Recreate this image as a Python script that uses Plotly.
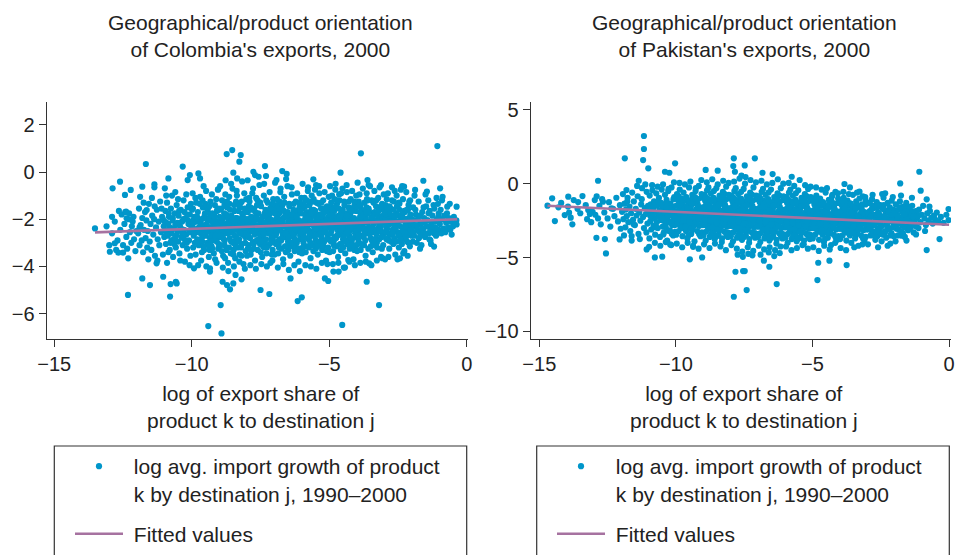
import plotly.graph_objects as go

# ---------------- data ----------------
tick_x = [-15, -10, -5, 0]
tick_y_colombia = [2, 0, -2, -4, -6]
tick_y_pakistan = [5, 0, -5, -10]

colombia_fit_x = [-13.52, -0.35]
colombia_fit_y = [-2.56, -2.0]
pakistan_fit_x = [-14.7, 0.0]
pakistan_fit_y = [-1.49, -2.78]

colombia_outliers = [
(-13.52,-2.39),(-12.98,-3.38),(-12.88,-0.69),(-12.8,-3.02),(-12.61,-0.41),(-12.67,-3.42),(-12.5,-3.42),(-12.43,-0.97),
(-12.31,-3.66),(-12.32,-5.21),(-12.22,-0.76),(-12.39,-1.68),(-12.37,-1.96),(-11.88,-1.05),(-11.8,-0.62),(-11.8,-4.51),
(-11.67,0.34),(-11.64,-1.61),(-11.52,-4.79),(-11.36,-0.52),(-11.36,-0.65),(-11.28,-3.87),(-11.04,-4.44),(-10.98,-0.69),
(-10.85,-0.27),(-10.77,-4.75),(-10.79,-5.28),(-10.58,-4.65),(-10.55,-4.72),(-10.33,0.23),(-10.15,-0.34),(-10.07,-0.13),
(-9.76,-0.06),(-9.7,-0.27),(-9.92,-4.08),(-9.4,-6.53),(-9.34,-4.08),(-9.34,-4.22),(-9.04,-0.73),(-8.92,-6.84),(-8.95,-5.64),
(-8.88,-4.65),(-8.73,0.76),(-8.53,0.93),(-8.49,-0.03),(-8.35,-0.27),(-8.27,0.44),(-8.22,0.72),(-8.72,-4.79),(-8.61,-4.97),
(-8.49,-4.72),(-8.41,-4.36),(-8.19,-4.55),(-7.76,0.01),(-7.7,-0.13),(-7.34,0.25),(-7.3,-0.17),(-7.5,-5.0),(-7.18,-5.17),
(-6.92,-0.34),(-6.71,0.04),(-6.55,-0.08),(-6.41,-4.51),(-6.15,-5.47),(-6.0,-5.31),(-5.58,-0.31),(-5.48,-0.55),(-5.16,-4.51),
(-5.04,-4.62),(-4.59,-0.03),(-4.53,-6.48),(-4.43,-4.05),(-4.85,-4.22),(-4.66,-4.22),(-4.31,-3.73),(-3.85,0.79),(-3.64,-4.65),
(-3.55,-3.87),(-3.61,-0.34),(-3.19,-5.64),(-3.12,-0.55),(-2.43,-3.66),(-2.31,-3.45),(-2.28,-0.62),(-1.88,-0.76),(-1.58,-0.37),
(-1.45,-0.83),(-1.19,-3.16),(-1.07,1.1),(-0.97,-0.69),(-0.88,-1.05),(-0.71,-1.47),(-0.37,-1.47),(-0.37,-2.22),
]

colombia_bulk = [
(-13.1,-2.3),(-12.9,-2.6),(-12.8,-2.1),(-12.7,-2.9),(-12.65,-1.65),(-12.6,-2.45),(-12.55,-1.8),(-12.5,-3.1),(-12.45,-2.2),(-12.42,-1.7),
(-12.38,-2.75),(-12.35,-3.25),(-12.3,-2.0),(-12.28,-1.75),(-12.25,-2.55),(-12.2,-3.0),(-12.18,-2.3),(-12.12,-1.9),(-12.1,-2.85),(-12.05,-3.35),
(-12.02,-2.5),(-12.9,-1.9),(-12.75,-3.3),(-13.0,-3.1),(-12.15,-2.1),
(-11.95,-2.6),(-11.92,-1.55),(-11.9,-3.1),(-11.86,-2.25),(-11.82,-2.9),(-11.8,-1.95),(-11.77,-3.4),(-11.74,-2.45),(-11.7,-1.7),(-11.68,-2.8),
(-11.65,-2.05),(-11.62,-3.2),(-11.6,-2.5),(-11.56,-1.35),(-11.53,-2.95),(-11.5,-2.2),(-11.47,-3.3),(-11.44,-1.85),(-11.4,-2.65),(-11.37,-2.0),
(-11.34,-3.55),(-11.3,-2.35),(-11.27,-1.6),(-11.24,-2.85),(-11.2,-2.1),(-11.18,-3.1),(-11.15,-1.25),(-11.12,-2.55),(-11.08,-1.9),(-11.05,-3.5),
(-11.02,-2.3),(-11.0,-2.75),(-11.45,-1.1),(-11.58,-3.7),(-11.25,-3.75),(-11.1,-1.55),(-11.35,-1.45),(-11.9,-2.35),(-11.75,-1.3),(-11.05,-2.0),
(-10.98,-2.45),(-10.96,-1.65),(-10.94,-3.05),(-10.92,-2.15),(-10.9,-1.3),(-10.87,-2.7),(-10.85,-3.4),(-10.83,-1.9),(-10.8,-2.35),(-10.78,-3.0),
(-10.76,-1.55),(-10.73,-2.6),(-10.7,-2.05),(-10.68,-3.6),(-10.65,-2.85),(-10.62,-1.75),(-10.6,-2.25),(-10.58,-3.2),(-10.55,-1.4),(-10.52,-2.5),
(-10.5,-2.95),(-10.48,-1.85),(-10.45,-3.45),(-10.43,-2.3),(-10.4,-1.6),(-10.38,-2.75),(-10.35,-2.1),(-10.33,-3.1),(-10.3,-1.2),(-10.28,-2.45),
(-10.25,-3.8),(-10.22,-1.95),(-10.2,-2.65),(-10.17,-3.25),(-10.15,-1.5),(-10.12,-2.2),(-10.1,-2.9),(-10.07,-1.8),(-10.05,-3.55),(-10.02,-2.4),
(-10.9,-3.85),(-10.72,-1.0),(-10.6,-0.85),(-10.42,-3.75),(-10.2,-0.95),(-10.08,-3.95),(-10.66,-2.4),(-10.36,-2.55),(-10.86,-2.2),(-10.14,-2.05),
(-10.5,-1.15),(-10.8,-3.3),(-10.27,-1.7),(-10.57,-2.7),(-10.03,-1.35),(-10.93,-1.0),(-10.45,-2.15),(-10.18,-3.0),(-10.74,-2.9),(-10.32,-2.8),
(-9.98,-2.3),(-9.96,-1.55),(-9.95,-3.2),(-9.93,-2.7),(-9.9,-1.9),(-9.88,-2.45),(-9.86,-3.5),(-9.84,-1.3),(-9.82,-2.1),(-9.8,-2.85),
(-9.78,-1.7),(-9.75,-3.1),(-9.73,-2.35),(-9.7,-1.05),(-9.68,-2.6),(-9.66,-3.75),(-9.64,-2.0),(-9.62,-2.95),(-9.6,-1.5),(-9.58,-2.4),
(-9.55,-3.3),(-9.53,-1.85),(-9.5,-2.7),(-9.48,-0.8),(-9.46,-2.2),(-9.44,-3.0),(-9.42,-1.6),(-9.4,-2.5),(-9.38,-3.6),(-9.36,-1.95),
(-9.34,-2.8),(-9.32,-1.25),(-9.3,-2.35),(-9.28,-3.15),(-9.25,-1.75),(-9.23,-2.6),(-9.2,-3.45),(-9.18,-2.05),(-9.16,-1.4),(-9.14,-2.9),
(-9.12,-2.25),(-9.1,-3.85),(-9.08,-1.65),(-9.06,-2.55),(-9.04,-3.25),(-9.02,-2.1),(-9.97,-0.9),(-9.77,-3.95),(-9.57,-0.6),(-9.47,-4.0),
(-9.27,-0.95),(-9.15,-3.7),(-9.05,-0.75),(-9.89,-3.0),(-9.69,-2.15),(-9.51,-1.35),(-9.39,-2.05),(-9.21,-2.85),(-9.11,-1.15),(-9.83,-2.55),
(-9.63,-3.4),(-9.43,-2.45),(-9.33,-1.8),(-9.19,-2.4),(-9.01,-2.75),(-9.92,-2.0),(-9.72,-2.9),(-9.54,-2.25),(-9.35,-3.3),(-9.17,-1.9),
(-9.87,-1.1),(-9.61,-1.2),(-9.29,-2.7),(-9.09,-2.95),(-9.79,-2.4),(-9.45,-1.45),(-9.24,-2.15),(-9.03,-1.55),(-9.65,-2.5),(-9.41,-3.1),
(-8.98,-2.35),(-8.96,-1.6),(-8.95,-3.1),(-8.93,-2.75),(-8.9,-1.2),(-8.88,-2.0),(-8.86,-3.55),(-8.84,-2.5),(-8.82,-1.75),(-8.8,-2.9),
(-8.78,-0.95),(-8.76,-2.2),(-8.74,-3.3),(-8.72,-1.5),(-8.7,-2.6),(-8.68,-3.85),(-8.66,-2.05),(-8.64,-1.05),(-8.62,-2.8),(-8.6,-2.35),
(-8.58,-3.45),(-8.56,-1.85),(-8.54,-2.55),(-8.52,-0.7),(-8.5,-3.0),(-8.48,-2.15),(-8.46,-1.4),(-8.44,-2.7),(-8.42,-3.65),(-8.4,-1.95),
(-8.38,-2.4),(-8.36,-1.0),(-8.34,-3.2),(-8.32,-2.25),(-8.3,-1.65),(-8.28,-2.85),(-8.26,-3.5),(-8.24,-2.0),(-8.22,-1.3),(-8.2,-2.55),
(-8.18,-3.05),(-8.16,-1.8),(-8.14,-2.45),(-8.12,-3.9),(-8.1,-2.1),(-8.08,-1.55),(-8.06,-2.75),(-8.04,-3.35),(-8.02,-1.15),(-8.97,-0.6),
(-8.87,-4.05),(-8.77,-0.35),(-8.67,-4.2),(-8.57,-0.5),(-8.47,-4.0),(-8.37,-0.8),(-8.27,-3.8),(-8.17,-0.4),(-8.07,-4.1),(-8.94,-2.2),
(-8.85,-2.65),(-8.75,-1.9),(-8.65,-3.2),(-8.55,-2.45),(-8.45,-2.95),(-8.35,-2.1),(-8.25,-1.5),(-8.15,-2.65),(-8.05,-2.3),(-8.91,-3.35),
(-8.81,-1.4),(-8.71,-2.45),(-8.61,-1.6),(-8.51,-2.25),(-8.41,-3.1),(-8.31,-2.95),(-8.21,-2.15),(-8.11,-1.95),(-8.01,-2.6),(-8.99,-1.9),
(-8.79,-3.65),(-8.59,-2.1),(-8.39,-1.25),(-8.19,-3.55),(-8.09,-0.9),(-8.89,-2.5),(-8.69,-1.35),(-8.49,-3.5),(-8.29,-2.5),(-8.13,-1.75),
(-7.98,-2.4),(-7.96,-1.7),(-7.94,-3.1),(-7.92,-2.15),(-7.9,-1.25),(-7.88,-2.8),(-7.86,-3.5),(-7.84,-1.95),(-7.82,-2.5),(-7.8,-0.9),
(-7.78,-3.0),(-7.76,-2.25),(-7.74,-1.55),(-7.72,-2.65),(-7.7,-3.75),(-7.68,-2.0),(-7.66,-1.1),(-7.64,-2.9),(-7.62,-2.35),(-7.6,-3.3),
(-7.58,-1.75),(-7.56,-2.55),(-7.54,-0.55),(-7.52,-3.05),(-7.5,-2.1),(-7.48,-1.45),(-7.46,-2.75),(-7.44,-3.6),(-7.42,-1.9),(-7.4,-2.45),
(-7.38,-1.0),(-7.36,-3.2),(-7.34,-2.3),(-7.32,-1.6),(-7.3,-2.85),(-7.28,-3.45),(-7.26,-2.05),(-7.24,-1.3),(-7.22,-2.6),(-7.2,-3.1),
(-7.18,-1.8),(-7.16,-2.4),(-7.14,-3.85),(-7.12,-2.15),(-7.1,-1.5),(-7.08,-2.7),(-7.06,-3.3),(-7.04,-1.15),(-7.02,-2.5),(-7.97,-0.35),
(-7.87,-3.95),(-7.77,-0.7),(-7.67,-4.1),(-7.57,-0.2),(-7.47,-3.9),(-7.37,-0.5),(-7.27,-4.0),(-7.17,-0.85),(-7.07,-3.75),(-7.95,-2.6),
(-7.85,-2.2),(-7.75,-3.25),(-7.65,-1.85),(-7.55,-2.3),(-7.45,-2.95),(-7.35,-1.75),(-7.25,-2.55),(-7.15,-2.0),(-7.05,-2.9),(-7.93,-1.45),
(-7.83,-3.3),(-7.73,-2.05),(-7.63,-1.4),(-7.53,-2.65),(-7.43,-2.15),(-7.33,-3.05),(-7.23,-1.95),(-7.13,-2.45),(-7.03,-1.7),(-7.99,-3.55),
(-7.89,-2.0),(-7.79,-1.6),(-7.69,-2.45),(-7.59,-2.0),(-7.49,-3.4),(-7.39,-2.65),(-7.29,-1.2),(-7.19,-2.3),(-7.09,-3.5),(-7.91,-1.1),
(-7.81,-2.35),(-7.71,-2.95),(-7.61,-1.2),(-7.51,-2.4),(-7.41,-3.15),(-7.31,-2.2),(-7.21,-1.65),(-7.11,-2.85),(-7.01,-2.2),
(-6.98,-2.35),(-6.96,-1.6),(-6.94,-3.05),(-6.92,-2.6),(-6.9,-1.15),(-6.88,-2.05),(-6.86,-3.45),(-6.84,-2.4),(-6.82,-1.75),(-6.8,-2.85),
(-6.78,-0.85),(-6.76,-2.2),(-6.74,-3.25),(-6.72,-1.45),(-6.7,-2.55),(-6.68,-3.7),(-6.66,-1.95),(-6.64,-1.05),(-6.62,-2.75),(-6.6,-2.3),
(-6.58,-3.4),(-6.56,-1.8),(-6.54,-2.5),(-6.52,-0.6),(-6.5,-2.95),(-6.48,-2.1),(-6.46,-1.35),(-6.44,-2.65),(-6.42,-3.55),(-6.4,-1.9),
(-6.38,-2.35),(-6.36,-0.95),(-6.34,-3.15),(-6.32,-2.2),(-6.3,-1.6),(-6.28,-2.8),(-6.26,-3.35),(-6.24,-2.0),(-6.22,-1.25),(-6.2,-2.5),
(-6.18,-3.0),(-6.16,-1.7),(-6.14,-2.4),(-6.12,-3.8),(-6.1,-2.05),(-6.08,-1.5),(-6.06,-2.7),(-6.04,-3.25),(-6.02,-1.1),(-6.97,-0.45),
(-6.87,-4.05),(-6.77,-0.7),(-6.67,-3.9),(-6.57,-0.3),(-6.47,-4.15),(-6.37,-0.65),(-6.27,-3.95),(-6.17,-0.9),(-6.07,-4.2),(-6.95,-2.7),
(-6.85,-2.15),(-6.75,-2.9),(-6.65,-1.65),(-6.55,-2.25),(-6.45,-3.05),(-6.35,-1.85),(-6.25,-2.6),(-6.15,-2.15),(-6.05,-2.85),(-6.93,-1.4),
(-6.83,-3.2),(-6.73,-2.0),(-6.63,-1.3),(-6.53,-2.6),(-6.43,-2.05),(-6.33,-3.0),(-6.23,-1.85),(-6.13,-2.5),(-6.03,-1.75),(-6.99,-3.5),
(-6.89,-1.85),(-6.79,-2.45),(-6.69,-2.1),(-6.59,-1.9),(-6.49,-3.3),(-6.39,-2.7),(-6.29,-1.35),(-6.19,-2.3),(-6.09,-3.4),(-6.91,-2.25),
(-6.81,-1.25),(-6.71,-2.8),(-6.61,-3.15),(-6.51,-1.7),(-6.41,-2.45),(-6.31,-2.35),(-6.21,-3.2),(-6.11,-1.6),(-6.01,-2.4),
(-5.98,-2.3),(-5.96,-1.55),(-5.94,-3.0),(-5.92,-2.55),(-5.9,-1.1),(-5.88,-2.0),(-5.86,-3.4),(-5.84,-2.35),(-5.82,-1.7),(-5.8,-2.8),
(-5.78,-0.8),(-5.76,-2.15),(-5.74,-3.2),(-5.72,-1.4),(-5.7,-2.5),(-5.68,-3.65),(-5.66,-1.9),(-5.64,-1.0),(-5.62,-2.7),(-5.6,-2.25),
(-5.58,-3.35),(-5.56,-1.75),(-5.54,-2.45),(-5.52,-0.75),(-5.5,-2.9),(-5.48,-2.05),(-5.46,-1.3),(-5.44,-2.6),(-5.42,-3.5),(-5.4,-1.85),
(-5.38,-2.3),(-5.36,-0.9),(-5.34,-3.1),(-5.32,-2.15),(-5.3,-1.55),(-5.28,-2.75),(-5.26,-3.3),(-5.24,-1.95),(-5.22,-1.2),(-5.2,-2.45),
(-5.18,-2.95),(-5.16,-1.65),(-5.14,-2.35),(-5.12,-3.75),(-5.1,-2.0),(-5.08,-1.45),(-5.06,-2.65),(-5.04,-3.2),(-5.02,-1.05),(-5.97,-0.5),
(-5.87,-3.95),(-5.77,-0.65),(-5.67,-4.0),(-5.57,-1.15),(-5.47,-4.1),(-5.37,-0.6),(-5.27,-3.85),(-5.17,-0.85),(-5.07,-3.9),(-5.95,-2.65),
(-5.85,-2.1),(-5.75,-2.85),(-5.65,-1.6),(-5.55,-2.2),(-5.45,-3.0),(-5.35,-1.8),(-5.25,-2.55),(-5.15,-2.1),(-5.05,-2.8),(-5.93,-1.35),
(-5.83,-3.15),(-5.73,-1.95),(-5.63,-1.25),(-5.53,-2.55),(-5.43,-2.0),(-5.33,-2.95),(-5.23,-1.8),(-5.13,-2.45),(-5.03,-1.7),(-5.99,-3.45),
(-5.89,-1.8),(-5.79,-2.4),(-5.69,-2.05),(-5.59,-1.85),(-5.49,-3.25),(-5.39,-2.65),(-5.29,-1.3),(-5.19,-2.25),(-5.09,-3.35),(-5.91,-2.2),
(-5.81,-1.2),(-5.71,-2.75),(-5.61,-3.1),(-5.51,-1.65),(-5.41,-2.4),(-5.31,-2.3),(-5.21,-3.15),(-5.11,-1.55),(-5.01,-2.35),
(-4.98,-2.25),(-4.96,-1.5),(-4.94,-2.95),(-4.92,-2.5),(-4.9,-1.0),(-4.88,-1.95),(-4.86,-3.35),(-4.84,-2.3),(-4.82,-1.65),(-4.8,-2.75),
(-4.78,-0.75),(-4.76,-2.1),(-4.74,-3.15),(-4.72,-1.35),(-4.7,-2.45),(-4.68,-3.6),(-4.66,-1.85),(-4.64,-0.95),(-4.62,-2.65),(-4.6,-2.2),
(-4.58,-3.3),(-4.56,-1.7),(-4.54,-2.4),(-4.52,-0.7),(-4.5,-2.85),(-4.48,-2.0),(-4.46,-1.25),(-4.44,-2.55),(-4.42,-3.45),(-4.4,-1.8),
(-4.38,-2.25),(-4.36,-0.85),(-4.34,-3.05),(-4.32,-2.1),(-4.3,-1.5),(-4.28,-2.7),(-4.26,-3.25),(-4.24,-1.9),(-4.22,-1.15),(-4.2,-2.4),
(-4.18,-2.9),(-4.16,-1.6),(-4.14,-2.3),(-4.12,-3.7),(-4.1,-1.95),(-4.08,-1.4),(-4.06,-2.6),(-4.04,-3.15),(-4.02,-1.0),(-4.97,-0.6),
(-4.87,-3.9),(-4.77,-0.5),(-4.67,-3.85),(-4.57,-0.9),(-4.47,-4.05),(-4.37,-0.55),(-4.27,-3.8),(-4.17,-0.8),(-4.07,-3.95),(-4.95,-2.6),
(-4.85,-2.05),(-4.75,-2.8),(-4.65,-1.55),(-4.55,-2.15),(-4.45,-2.95),(-4.35,-1.75),(-4.25,-2.5),(-4.15,-2.05),(-4.05,-2.75),(-4.93,-1.3),
(-4.83,-3.1),(-4.73,-1.9),(-4.63,-1.2),(-4.53,-2.5),(-4.43,-1.95),(-4.33,-2.9),(-4.23,-1.75),(-4.13,-2.4),(-4.03,-1.65),(-4.99,-3.4),
(-4.89,-1.75),(-4.79,-2.35),(-4.69,-2.0),(-4.59,-1.8),(-4.49,-3.2),(-4.39,-2.6),(-4.29,-1.25),(-4.19,-2.2),(-4.09,-3.3),(-4.91,-2.15),
(-4.81,-1.15),(-4.71,-2.7),(-4.61,-3.05),(-4.51,-1.6),(-4.41,-2.35),(-4.31,-2.25),(-4.21,-3.1),(-4.11,-1.5),(-4.01,-2.3),
(-3.98,-2.2),(-3.96,-1.45),(-3.94,-2.9),(-3.92,-2.45),(-3.9,-0.95),(-3.88,-1.9),(-3.86,-3.3),(-3.84,-2.25),(-3.82,-1.6),(-3.8,-2.7),
(-3.78,-0.7),(-3.76,-2.05),(-3.74,-3.1),(-3.72,-1.3),(-3.7,-2.4),(-3.68,-3.55),(-3.66,-1.8),(-3.64,-0.9),(-3.62,-2.6),(-3.6,-2.15),
(-3.58,-3.25),(-3.56,-1.65),(-3.54,-2.35),(-3.52,-0.6),(-3.5,-2.8),(-3.48,-1.95),(-3.46,-1.2),(-3.44,-2.5),(-3.42,-3.4),(-3.4,-1.75),
(-3.38,-2.2),(-3.36,-0.8),(-3.34,-3.0),(-3.32,-2.05),(-3.3,-1.45),(-3.28,-2.65),(-3.26,-3.2),(-3.24,-1.85),(-3.22,-1.1),(-3.2,-2.35),
(-3.18,-2.85),(-3.16,-1.55),(-3.14,-2.25),(-3.12,-3.6),(-3.1,-1.9),(-3.08,-1.35),(-3.06,-2.55),(-3.04,-3.1),(-3.02,-0.95),(-3.97,-0.45),
(-3.87,-3.85),(-3.67,-3.8),(-3.57,-0.55),(-3.47,-3.95),(-3.27,-3.75),(-3.17,-0.65),(-3.07,-3.65),(-3.95,-2.55),(-3.85,-2.0),(-3.75,-2.75),
(-3.65,-1.5),(-3.55,-2.1),(-3.45,-2.9),(-3.35,-1.7),(-3.25,-2.45),(-3.15,-2.0),(-3.05,-2.7),(-3.93,-1.25),(-3.83,-3.05),(-3.73,-1.85),
(-3.63,-1.15),(-3.53,-2.45),(-3.43,-1.9),(-3.33,-2.85),(-3.23,-1.7),(-3.13,-2.35),(-3.03,-1.6),(-3.99,-3.35),(-3.89,-1.7),(-3.79,-2.3),
(-3.69,-1.95),(-3.59,-1.75),(-3.49,-3.15),(-3.39,-2.55),(-3.29,-1.2),(-3.19,-2.15),(-3.09,-3.25),
(-2.98,-2.15),(-2.95,-1.4),(-2.92,-2.85),(-2.9,-2.4),(-2.87,-0.9),(-2.85,-1.85),(-2.82,-3.25),(-2.8,-2.2),(-2.77,-1.55),(-2.75,-2.65),
(-2.72,-0.65),(-2.7,-2.0),(-2.67,-3.05),(-2.65,-1.25),(-2.62,-2.35),(-2.6,-3.5),(-2.57,-1.75),(-2.55,-1.0),(-2.52,-2.55),(-2.5,-2.1),
(-2.47,-3.2),(-2.45,-1.6),(-2.42,-2.3),(-2.4,-0.75),(-2.37,-2.75),(-2.35,-1.9),(-2.32,-1.15),(-2.3,-2.45),(-2.27,-3.35),(-2.25,-1.7),
(-2.22,-2.15),(-2.2,-0.85),(-2.17,-2.95),(-2.15,-2.0),(-2.12,-1.4),(-2.1,-2.6),(-2.07,-3.15),(-2.05,-1.8),(-2.02,-2.3),(-2.97,-3.7),
(-2.85,-3.6),(-2.62,-0.8),(-2.52,-3.7),(-2.35,-0.6),(-2.15,-3.55),(-2.94,-1.95),(-2.84,-2.6),(-2.74,-1.85),(-2.64,-2.8),(-2.54,-1.45),
(-2.44,-2.65),(-2.34,-2.05),(-2.24,-2.85),(-2.14,-1.6),(-2.04,-2.55),(-2.91,-1.15),(-2.81,-1.65),(-2.71,-2.45),(-2.61,-2.1),(-2.51,-1.85),
(-2.41,-2.95),(-2.31,-1.95),(-2.21,-2.4),(-2.11,-1.95),(-2.01,-2.7),(-2.96,-2.55),(-2.76,-2.95),(-2.56,-2.25),(-2.46,-1.3),(-2.26,-2.6),
(-2.06,-1.2),(-2.66,-1.6),(-2.86,-2.0),(-2.36,-3.05),(-2.16,-2.25),
(-1.98,-2.1),(-1.95,-1.5),(-1.92,-2.7),(-1.88,-2.3),(-1.85,-1.8),(-1.82,-3.0),(-1.78,-2.0),(-1.75,-1.25),(-1.72,-2.55),(-1.68,-2.2),
(-1.65,-3.1),(-1.62,-1.7),(-1.58,-2.4),(-1.55,-1.95),(-1.52,-2.75),(-1.48,-1.45),(-1.45,-2.3),(-1.42,-2.05),(-1.38,-2.6),(-1.35,-1.65),
(-1.32,-2.9),(-1.28,-2.15),(-1.25,-1.85),(-1.22,-2.5),(-1.18,-1.55),(-1.15,-2.35),(-1.12,-2.7),(-1.08,-2.0),(-1.05,-1.35),(-1.02,-2.45),
(-1.9,-1.0),(-1.7,-3.25),(-1.5,-0.95),(-1.3,-3.05),(-1.1,-1.1),(-1.94,-2.05),(-1.74,-2.8),(-1.54,-2.15),(-1.34,-2.35),(-1.14,-2.55),
(-1.6,-2.65),(-1.4,-1.2),(-1.2,-2.6),(-1.8,-2.45),(-1.02,-1.75),
(-0.98,-2.2),(-0.95,-1.6),(-0.92,-2.6),(-0.88,-2.0),(-0.85,-2.4),(-0.82,-1.85),(-0.78,-2.55),(-0.75,-2.15),(-0.72,-1.75),(-0.68,-2.35),
(-0.65,-1.95),(-0.6,-2.45),(-0.58,-2.1),(-0.55,-2.65),(-0.5,-2.3),(-0.47,-1.9),(-0.42,-2.2),(-0.38,-2.05),(-0.9,-1.2),(-0.62,-1.35),
]

colombia_core = [
(-10.99,-2.1),(-10.91,-2.6),(-10.84,-1.75),(-10.77,-2.45),(-10.69,-1.95),(-10.61,-2.8),(-10.53,-2.15),(-10.46,-1.65),(-10.39,-2.4),(-10.31,-2.0),
(-10.24,-2.9),(-10.16,-1.8),(-10.09,-2.55),(-10.01,-2.1),(-10.64,-3.05),
(-9.99,-1.6),(-9.91,-2.6),(-9.85,-2.0),(-9.77,-2.9),(-9.71,-1.35),(-9.66,-2.3),(-9.59,-3.15),(-9.52,-1.75),(-9.47,-2.55),(-9.41,-2.0),
(-9.36,-1.45),(-9.3,-2.95),(-9.24,-2.45),(-9.19,-1.85),(-9.13,-2.7),(-9.07,-1.6),(-9.02,-3.05),(-9.94,-2.15),(-9.81,-1.9),(-9.62,-2.75),
(-9.44,-2.3),(-9.26,-3.25),(-9.09,-2.2),(-9.56,-1.95),(-9.74,-2.45),
(-8.99,-2.7),(-8.93,-1.55),(-8.87,-2.25),(-8.81,-3.1),(-8.75,-1.8),(-8.69,-2.5),(-8.63,-1.35),(-8.57,-2.95),(-8.51,-2.05),(-8.45,-1.65),
(-8.39,-2.75),(-8.33,-2.3),(-8.27,-1.45),(-8.21,-3.2),(-8.15,-2.0),(-8.09,-2.6),(-8.03,-1.7),(-8.96,-2.05),(-8.84,-2.85),(-8.72,-1.25),
(-8.6,-2.4),(-8.48,-3.3),(-8.36,-1.95),(-8.24,-2.6),(-8.12,-2.35),(-8.9,-1.95),(-8.66,-2.15),(-8.42,-2.45),(-8.18,-1.25),(-8.06,-3.0),
(-7.99,-2.0),(-7.93,-2.75),(-7.87,-1.5),(-7.81,-2.45),(-7.75,-3.05),(-7.69,-1.7),(-7.63,-2.25),(-7.57,-2.85),(-7.51,-1.3),(-7.45,-2.1),
(-7.39,-2.6),(-7.33,-1.85),(-7.27,-3.2),(-7.21,-2.35),(-7.15,-1.55),(-7.09,-2.7),(-7.03,-2.05),(-7.96,-3.25),(-7.84,-1.9),(-7.72,-2.55),
(-7.6,-1.4),(-7.48,-2.95),(-7.36,-2.15),(-7.24,-1.75),(-7.12,-3.0),(-7.9,-2.3),(-7.66,-1.95),(-7.42,-2.4),(-7.18,-2.6),(-7.06,-1.35),
(-6.99,-1.75),(-6.93,-2.45),(-6.87,-2.95),(-6.81,-1.55),(-6.75,-2.1),(-6.69,-2.7),(-6.63,-1.9),(-6.57,-3.15),(-6.51,-2.35),(-6.45,-1.45),
(-6.39,-2.05),(-6.33,-2.65),(-6.27,-1.65),(-6.21,-2.9),(-6.15,-2.25),(-6.09,-1.3),(-6.03,-2.55),(-6.96,-2.2),(-6.84,-3.05),(-6.72,-1.35),
(-6.6,-2.6),(-6.48,-2.8),(-6.36,-1.8),(-6.24,-2.4),(-6.12,-3.25),(-6.9,-1.95),(-6.66,-2.3),(-6.42,-3.0),(-6.18,-1.9),(-6.06,-2.15),
(-5.99,-2.1),(-5.93,-2.8),(-5.87,-1.45),(-5.81,-2.35),(-5.75,-1.85),(-5.69,-3.0),(-5.63,-2.2),(-5.57,-1.6),(-5.51,-2.7),(-5.45,-2.0),
(-5.39,-1.35),(-5.33,-2.5),(-5.27,-3.1),(-5.21,-1.7),(-5.15,-2.3),(-5.09,-2.85),(-5.03,-1.9),(-5.96,-3.2),(-5.84,-1.95),(-5.72,-2.6),
(-5.6,-1.25),(-5.48,-2.4),(-5.36,-2.95),(-5.24,-2.15),(-5.12,-1.5),(-5.9,-2.45),(-5.66,-1.75),(-5.42,-3.15),(-5.18,-2.55),(-5.06,-2.05),
(-4.99,-1.8),(-4.93,-2.4),(-4.87,-2.85),(-4.81,-1.5),(-4.75,-2.15),(-4.69,-2.65),(-4.63,-1.95),(-4.57,-3.05),(-4.51,-2.3),(-4.45,-1.4),
(-4.39,-2.0),(-4.33,-2.55),(-4.27,-1.7),(-4.21,-2.8),(-4.15,-2.2),(-4.09,-1.25),(-4.03,-2.5),(-4.96,-2.1),(-4.84,-2.95),(-4.72,-1.2),
(-4.6,-2.45),(-4.48,-2.75),(-4.36,-1.85),(-4.24,-2.35),(-4.12,-3.1),(-4.9,-1.6),(-4.66,-2.25),(-4.42,-2.9),(-4.18,-1.65),(-4.06,-2.1),
(-3.99,-2.05),(-3.93,-2.7),(-3.87,-1.4),(-3.81,-2.3),(-3.75,-1.8),(-3.69,-2.9),(-3.63,-2.15),(-3.57,-1.55),(-3.51,-2.6),(-3.45,-1.95),
(-3.39,-1.3),(-3.33,-2.45),(-3.27,-3.0),(-3.21,-1.65),(-3.15,-2.25),(-3.09,-2.75),(-3.03,-1.85),(-3.96,-3.05),(-3.84,-1.9),(-3.72,-2.5),
(-3.6,-1.2),(-3.48,-2.35),(-3.36,-2.85),(-3.24,-2.1),(-3.12,-1.45),(-3.9,-2.4),(-3.66,-1.7),(-3.42,-3.1),(-3.18,-2.5),(-3.06,-2.0),
(-2.99,-1.75),(-2.93,-2.3),(-2.87,-2.8),(-2.81,-1.45),(-2.75,-2.1),(-2.69,-2.6),(-2.63,-1.9),(-2.57,-2.95),(-2.51,-2.25),(-2.45,-1.35),
(-2.39,-1.95),(-2.33,-2.5),(-2.27,-1.65),(-2.21,-2.75),(-2.15,-2.15),(-2.09,-1.25),(-2.03,-2.45),(-2.96,-2.05),(-2.84,-2.9),(-2.72,-1.2),
(-2.6,-2.4),(-2.48,-2.7),(-2.36,-1.8),(-2.24,-2.3),(-2.12,-3.0),(-2.9,-1.55),(-2.66,-2.2),(-2.42,-2.85),(-2.18,-1.6),(-2.06,-2.05),
(-1.99,-2.0),(-1.93,-2.55),(-1.87,-1.6),(-1.81,-2.25),(-1.75,-2.8),(-1.69,-1.85),(-1.63,-2.4),(-1.57,-1.5),(-1.51,-2.6),(-1.45,-2.05),
(-1.39,-1.75),(-1.33,-2.5),(-1.27,-2.3),(-1.21,-1.4),(-1.15,-2.1),(-1.09,-2.65),(-1.03,-1.9),(-1.96,-2.95),(-1.66,-2.15),(-1.36,-2.85),
]

pakistan_outliers = [
(-14.7,-1.49),(-14.53,-0.99),(-14.43,-2.53),(-14.07,-2.12),(-13.94,-0.88),(-13.91,-1.96),(-13.79,-2.75),(-13.74,-1.11),
(-13.58,-1.24),(-13.42,-0.84),(-13.21,-1.78),(-13.15,-2.05),(-12.97,-1.11),(-12.91,-3.66),(-12.85,0.2),(-12.85,-2.35),
(-12.67,-1.22),(-12.6,-3.75),(-12.56,-4.72),(-12.36,-1.67),(-12.06,-3.77),(-11.87,1.72),(-11.81,-0.43),(-11.62,-3.54),
(-11.36,0.2),(-11.17,3.23),(-11.17,2.35),(-11.2,1.6),(-11.01,1.04),(-11.07,-4.45),(-10.98,-4.27),(-10.77,-4.99),
(-10.5,-4.94),(-10.46,-3.43),(-10.4,0.81),(-10.24,0.74),(-10.21,-4.11),(-10.03,1.38),(-9.49,-5.12),(-9.37,-4.27),
(-9.04,-4.99),(-8.91,0.93),(-8.47,0.88),(-7.88,1.72),(-7.9,1.2),(-7.84,0.81),(-7.88,-7.65),(-7.82,-5.96),(-7.54,-5.91),
(-7.48,-5.91),(-7.41,-7.2),(-7.48,1.24),(-7.11,1.72),(-6.83,0.74),(-6.78,-5.21),(-6.58,-5.62),(-6.46,0.65),(-6.31,-6.79),
(-5.76,0.47),(-4.82,-6.52),(-4.79,-5.35),(-4.38,-5.21),(-3.75,-5.51),(-3.83,-0.02),(-3.63,-0.25),(-3.28,-0.54),(-2.34,-0.65),
(-1.79,0.02),(-1.09,0.81),(-1.04,-0.47),(-0.82,-1.06),(-0.82,-4.49),(-0.35,-3.75),(-0.02,-1.72),(-0.02,-2.46),(-1.12,-2.12),
(-1.21,-3.43),(-1.73,-3.52),
]

pakistan_bulk = [
(-14.3,-1.6),(-14.2,-1.3),(-13.95,-1.55),(-13.85,-2.3),(-13.6,-1.7),(-13.5,-2.0),(-13.3,-1.45),(-13.25,-2.4),(-13.05,-1.9),(-12.95,-2.1),
(-12.8,-1.5),(-12.75,-2.75),(-12.62,-1.95),(-12.5,-2.35),(-12.45,-1.25),(-12.4,-2.9),(-12.3,-1.7),(-12.25,-2.2),(-12.18,-0.95),(-12.12,-2.55),
(-12.05,-1.45),(-12.02,-3.05),(-12.7,-1.05),(-13.1,-2.6),(-12.9,-0.85),
(-11.97,-1.9),(-11.94,-0.7),(-11.92,-2.4),(-11.88,-1.35),(-11.85,-2.95),(-11.83,-1.75),(-11.8,-2.2),(-11.77,-0.95),(-11.74,-2.6),(-11.7,-1.55),
(-11.67,-3.2),(-11.64,-2.0),(-11.6,-0.6),(-11.57,-2.45),(-11.54,-1.2),(-11.5,-2.8),(-11.47,-1.7),(-11.44,-2.15),(-11.4,-0.85),(-11.37,-3.4),
(-11.34,-1.95),(-11.3,-2.5),(-11.27,-1.4),(-11.24,-0.3),(-11.2,-2.25),(-11.17,-3.0),(-11.14,-1.65),(-11.1,-2.05),(-11.07,-0.55),(-11.04,-2.7),
(-11.02,-1.5),(-11.9,-3.5),(-11.62,-3.85),(-11.42,-0.15),(-11.32,-3.75),(-11.12,-0.05),(-11.55,-2.75),(-11.25,-1.05),(-11.08,-3.3),(-11.78,-1.2),
(-10.98,-1.85),(-10.96,-0.8),(-10.94,-2.55),(-10.92,-1.4),(-10.9,-3.1),(-10.88,-2.1),(-10.86,-0.45),(-10.84,-1.7),(-10.82,-2.85),(-10.8,-1.2),
(-10.78,-2.35),(-10.76,-3.45),(-10.74,-1.95),(-10.72,-0.65),(-10.7,-2.6),(-10.68,-1.5),(-10.66,-3.0),(-10.64,-2.2),(-10.62,-0.95),(-10.6,-1.8),
(-10.58,-3.6),(-10.56,-2.45),(-10.54,-1.3),(-10.52,-0.4),(-10.5,-2.0),(-10.48,-2.9),(-10.46,-1.6),(-10.44,-3.3),(-10.42,-2.3),(-10.4,-0.75),
(-10.38,-1.95),(-10.36,-2.7),(-10.34,-1.1),(-10.32,-3.85),(-10.3,-2.15),(-10.28,-0.5),(-10.26,-1.7),(-10.24,-2.55),(-10.22,-3.15),(-10.2,-1.35),
(-10.18,-2.05),(-10.16,-0.25),(-10.14,-2.8),(-10.12,-1.55),(-10.1,-3.5),(-10.08,-2.35),(-10.06,-0.9),(-10.04,-1.85),(-10.02,-2.6),(-10.97,-3.7),
(-10.87,-0.1),(-10.77,-4.0),(-10.67,-0.2),(-10.57,-4.2),(-10.47,-0.05),(-10.37,-3.95),(-10.27,-0.35),(-10.17,-4.15),(-10.07,0.1),(-10.93,-2.2),
(-10.83,-1.55),(-10.73,-2.95),(-10.63,-1.2),(-10.53,-2.25),(-10.43,-1.45),(-10.33,-2.4),(-10.23,-1.9),(-10.13,-2.15),(-10.03,-3.25),(-10.81,-2.0),
(-9.98,-2.0),(-9.96,-0.7),(-9.94,-2.65),(-9.92,-1.45),(-9.9,-3.2),(-9.88,-2.2),(-9.86,-0.4),(-9.84,-1.75),(-9.82,-2.9),(-9.8,-1.25),
(-9.78,-2.4),(-9.76,-3.55),(-9.74,-1.95),(-9.72,-0.6),(-9.7,-2.7),(-9.68,-1.55),(-9.66,-3.05),(-9.64,-2.25),(-9.62,-0.9),(-9.6,-1.85),
(-9.58,-3.7),(-9.56,-2.5),(-9.54,-1.35),(-9.52,-0.25),(-9.5,-2.05),(-9.48,-2.95),(-9.46,-1.65),(-9.44,-3.4),(-9.42,-2.35),(-9.4,-0.75),
(-9.38,-2.0),(-9.36,-2.75),(-9.34,-1.15),(-9.32,-3.9),(-9.3,-2.2),(-9.28,-0.5),(-9.26,-1.75),(-9.24,-2.6),(-9.22,-3.2),(-9.2,-1.4),
(-9.18,-2.1),(-9.16,-0.15),(-9.14,-2.85),(-9.12,-1.6),(-9.1,-3.55),(-9.08,-2.4),(-9.06,-0.95),(-9.04,-1.9),(-9.02,-2.65),(-9.97,-4.05),
(-9.87,0.05),(-9.77,-4.3),(-9.67,-0.05),(-9.57,-4.0),(-9.47,0.15),(-9.37,-4.2),(-9.27,-0.3),(-9.17,-4.4),(-9.07,0.25),(-9.95,-2.35),
(-9.85,-1.6),(-9.75,-3.0),(-9.65,-1.15),(-9.55,-2.3),(-9.45,-1.5),(-9.35,-2.45),(-9.25,-1.95),(-9.15,-2.2),(-9.05,-3.3),(-9.93,-1.1),
(-9.83,-2.55),(-9.73,-1.8),(-9.63,-2.85),(-9.53,-1.9),(-9.43,-2.6),(-9.33,-1.3),(-9.23,-2.4),(-9.13,-1.7),(-9.03,-2.8),(-9.99,-3.45),
(-9.89,-2.75),(-9.79,-1.0),(-9.69,-2.15),(-9.59,-2.7),(-9.49,-1.2),(-9.39,-3.1),(-9.29,-2.6),(-9.19,-1.05),(-9.09,-2.05),
(-8.98,-2.05),(-8.96,-0.75),(-8.94,-2.7),(-8.92,-1.5),(-8.9,-3.25),(-8.88,-2.25),(-8.86,-0.45),(-8.84,-1.8),(-8.82,-2.95),(-8.8,-1.3),
(-8.78,-2.45),(-8.76,-3.6),(-8.74,-2.0),(-8.72,-0.65),(-8.7,-2.75),(-8.68,-1.6),(-8.66,-3.1),(-8.64,-2.3),(-8.62,-0.95),(-8.6,-1.9),
(-8.58,-3.75),(-8.56,-2.55),(-8.54,-1.4),(-8.52,-0.3),(-8.5,-2.1),(-8.48,-3.0),(-8.46,-1.7),(-8.44,-3.45),(-8.42,-2.4),(-8.4,-0.8),
(-8.38,-2.05),(-8.36,-2.8),(-8.34,-1.2),(-8.32,-3.95),(-8.3,-2.25),(-8.28,-0.55),(-8.26,-1.8),(-8.24,-2.65),(-8.22,-3.25),(-8.2,-1.45),
(-8.18,-2.15),(-8.16,-0.2),(-8.14,-2.9),(-8.12,-1.65),(-8.1,-3.6),(-8.08,-2.45),(-8.06,-1.0),(-8.04,-1.95),(-8.02,-2.7),(-8.97,-4.1),
(-8.87,0.1),(-8.77,-4.35),(-8.67,0.3),(-8.57,-4.05),(-8.47,-0.05),(-8.37,-4.25),(-8.27,0.2),(-8.17,-4.5),(-8.07,0.05),(-8.95,-2.4),
(-8.85,-1.65),(-8.75,-3.05),(-8.65,-1.2),(-8.55,-2.35),(-8.45,-1.55),(-8.35,-2.5),(-8.25,-2.0),(-8.15,-2.25),(-8.05,-3.35),(-8.93,-1.15),
(-8.83,-2.6),(-8.73,-1.85),(-8.63,-2.9),(-8.53,-1.95),(-8.43,-2.65),(-8.33,-1.35),(-8.23,-2.45),(-8.13,-1.75),(-8.03,-2.85),(-8.99,-3.5),
(-8.89,-2.8),(-8.79,-1.05),(-8.69,-2.2),(-8.59,-2.75),(-8.49,-1.25),(-8.39,-3.15),(-8.29,-2.65),(-8.19,-1.1),(-8.09,-2.1),(-8.91,-3.85),
(-8.81,-0.25),(-8.71,-3.4),(-8.61,-0.5),(-8.51,-3.55),(-8.41,-1.1),(-8.31,-3.7),(-8.21,-0.7),(-8.11,-3.3),(-8.01,-0.85),
(-7.98,-2.1),(-7.96,-0.8),(-7.94,-2.75),(-7.92,-1.55),(-7.9,-3.3),(-7.88,-2.3),(-7.86,-0.5),(-7.84,-1.85),(-7.82,-3.0),(-7.8,-1.35),
(-7.78,-2.5),(-7.76,-3.65),(-7.74,-2.05),(-7.72,-0.7),(-7.7,-2.8),(-7.68,-1.65),(-7.66,-3.15),(-7.64,-2.35),(-7.62,-1.0),(-7.6,-1.95),
(-7.58,-3.8),(-7.56,-2.6),(-7.54,-1.45),(-7.52,-0.35),(-7.5,-2.15),(-7.48,-3.05),(-7.46,-1.75),(-7.44,-3.5),(-7.42,-2.45),(-7.4,-0.85),
(-7.38,-2.1),(-7.36,-2.85),(-7.34,-1.25),(-7.32,-4.0),(-7.3,-2.3),(-7.28,-0.6),(-7.26,-1.85),(-7.24,-2.7),(-7.22,-3.3),(-7.2,-1.5),
(-7.18,-2.2),(-7.16,-0.25),(-7.14,-2.95),(-7.12,-1.7),(-7.1,-3.65),(-7.08,-2.5),(-7.06,-1.05),(-7.04,-2.0),(-7.02,-2.75),(-7.97,-4.15),
(-7.87,0.15),(-7.77,-4.4),(-7.67,0.35),(-7.57,-4.6),(-7.47,0.0),(-7.37,-4.3),(-7.27,0.25),(-7.17,-4.55),(-7.07,0.1),(-7.95,-2.45),
(-7.85,-1.7),(-7.75,-3.1),(-7.65,-1.25),(-7.55,-2.4),(-7.45,-1.6),(-7.35,-2.55),(-7.25,-2.05),(-7.15,-2.3),(-7.05,-3.4),(-7.93,-1.2),
(-7.83,-2.65),(-7.73,-1.9),(-7.63,-2.95),(-7.53,-2.0),(-7.43,-2.7),(-7.33,-1.4),(-7.23,-2.5),(-7.13,-1.8),(-7.03,-2.9),(-7.99,-3.55),
(-7.89,-2.85),(-7.79,-1.1),(-7.69,-2.25),(-7.59,-2.8),(-7.49,-1.3),(-7.39,-3.2),(-7.29,-2.7),(-7.19,-1.15),(-7.09,-2.15),(-7.91,-3.9),
(-7.81,-0.3),(-7.71,-3.45),(-7.61,-0.55),(-7.51,-3.6),(-7.41,-1.15),(-7.31,-3.75),(-7.21,-0.75),(-7.11,-3.35),(-7.01,-0.9),(-7.74,-4.8),
(-7.55,-4.95),(-7.35,-4.75),(-7.6,0.55),(-7.45,0.45),(-7.2,-4.85),
(-6.98,-2.15),(-6.96,-0.85),(-6.94,-2.8),(-6.92,-1.6),(-6.9,-3.35),(-6.88,-2.35),(-6.86,-0.55),(-6.84,-1.9),(-6.82,-3.05),(-6.8,-1.4),
(-6.78,-2.55),(-6.76,-3.7),(-6.74,-2.1),(-6.72,-0.75),(-6.7,-2.85),(-6.68,-1.7),(-6.66,-3.2),(-6.64,-2.4),(-6.62,-1.05),(-6.6,-2.0),
(-6.58,-3.85),(-6.56,-2.65),(-6.54,-1.5),(-6.52,-0.4),(-6.5,-2.2),(-6.48,-3.1),(-6.46,-1.8),(-6.44,-3.55),(-6.42,-2.5),(-6.4,-0.9),
(-6.38,-2.15),(-6.36,-2.9),(-6.34,-1.3),(-6.32,-4.05),(-6.3,-2.35),(-6.28,-0.65),(-6.26,-1.9),(-6.24,-2.75),(-6.22,-3.35),(-6.2,-1.55),
(-6.18,-2.25),(-6.16,-0.3),(-6.14,-3.0),(-6.12,-1.75),(-6.1,-3.7),(-6.08,-2.55),(-6.06,-1.1),(-6.04,-2.05),(-6.02,-2.8),(-6.97,-4.2),
(-6.87,0.2),(-6.77,-4.45),(-6.67,-0.05),(-6.57,-4.3),(-6.47,0.05),(-6.37,-4.5),(-6.27,0.3),(-6.17,-4.25),(-6.07,0.0),(-6.95,-2.5),
(-6.85,-1.75),(-6.75,-3.15),(-6.65,-1.3),(-6.55,-2.45),(-6.45,-1.65),(-6.35,-2.6),(-6.25,-2.1),(-6.15,-2.35),(-6.05,-3.45),(-6.93,-1.25),
(-6.83,-2.7),(-6.73,-1.95),(-6.63,-3.0),(-6.53,-2.05),(-6.43,-2.75),(-6.33,-1.45),(-6.23,-2.55),(-6.13,-1.85),(-6.03,-2.95),(-6.99,-3.6),
(-6.89,-2.9),(-6.79,-1.15),(-6.69,-2.3),(-6.59,-2.85),(-6.49,-1.35),(-6.39,-3.25),(-6.29,-2.75),(-6.19,-1.2),(-6.09,-2.2),(-6.91,-3.95),
(-6.81,-0.35),(-6.71,-3.5),(-6.61,-0.6),(-6.51,-3.65),(-6.41,-1.2),(-6.31,-3.8),(-6.21,-0.8),(-6.11,-3.4),(-6.01,-0.95),(-6.9,-4.8),
(-6.6,-4.65),(-6.4,-4.9),(-6.2,-4.7),
(-5.98,-2.2),(-5.96,-0.9),(-5.94,-2.85),(-5.92,-1.65),(-5.9,-3.4),(-5.88,-2.4),(-5.86,-0.6),(-5.84,-1.95),(-5.82,-3.1),(-5.8,-1.45),
(-5.78,-2.6),(-5.76,-3.75),(-5.74,-2.15),(-5.72,-0.8),(-5.7,-2.9),(-5.68,-1.75),(-5.66,-3.25),(-5.64,-2.45),(-5.62,-1.1),(-5.6,-2.05),
(-5.58,-3.9),(-5.56,-2.7),(-5.54,-1.55),(-5.52,-0.45),(-5.5,-2.25),(-5.48,-3.15),(-5.46,-1.85),(-5.44,-3.6),(-5.42,-2.55),(-5.4,-0.95),
(-5.38,-2.2),(-5.36,-2.95),(-5.34,-1.35),(-5.32,-4.1),(-5.3,-2.4),(-5.28,-0.7),(-5.26,-1.95),(-5.24,-2.8),(-5.22,-3.4),(-5.2,-1.6),
(-5.18,-2.3),(-5.16,-0.35),(-5.14,-3.05),(-5.12,-1.8),(-5.1,-3.75),(-5.08,-2.6),(-5.06,-1.15),(-5.04,-2.1),(-5.02,-2.85),(-5.97,-4.25),
(-5.87,0.05),(-5.77,-4.5),(-5.67,-0.15),(-5.57,-4.35),(-5.47,0.25),(-5.37,-4.15),(-5.27,-0.1),(-5.17,-4.4),(-5.07,-0.2),(-5.95,-2.55),
(-5.85,-1.8),(-5.75,-3.2),(-5.65,-1.35),(-5.55,-2.5),(-5.45,-1.7),(-5.35,-2.65),(-5.25,-2.15),(-5.15,-2.4),(-5.05,-3.5),(-5.93,-1.3),
(-5.83,-2.75),(-5.73,-2.0),(-5.63,-3.05),(-5.53,-2.1),(-5.43,-2.8),(-5.33,-1.5),(-5.23,-2.6),(-5.13,-1.9),(-5.03,-3.0),(-5.99,-3.65),
(-5.89,-2.95),(-5.79,-1.2),(-5.69,-2.35),(-5.59,-2.9),(-5.49,-1.4),(-5.39,-3.3),(-5.29,-2.8),(-5.19,-1.25),(-5.09,-2.25),(-5.91,-4.0),
(-5.81,-0.4),(-5.71,-3.55),(-5.61,-0.65),(-5.51,-3.7),(-5.41,-1.25),(-5.31,-3.85),(-5.21,-0.85),(-5.11,-3.45),(-5.01,-1.0),
(-4.98,-2.3),(-4.96,-1.1),(-4.94,-2.9),(-4.92,-1.75),(-4.9,-3.45),(-4.88,-2.5),(-4.86,-0.8),(-4.84,-2.05),(-4.82,-3.15),(-4.8,-1.55),
(-4.78,-2.65),(-4.76,-3.8),(-4.74,-2.2),(-4.72,-1.0),(-4.7,-2.95),(-4.68,-1.85),(-4.66,-3.3),(-4.64,-2.5),(-4.62,-1.25),(-4.6,-2.1),
(-4.58,-3.95),(-4.56,-2.75),(-4.54,-1.6),(-4.52,-0.6),(-4.5,-2.3),(-4.48,-3.2),(-4.46,-1.9),(-4.44,-3.65),(-4.42,-2.6),(-4.4,-1.1),
(-4.38,-2.25),(-4.36,-3.0),(-4.34,-1.45),(-4.32,-4.15),(-4.3,-2.45),(-4.28,-0.85),(-4.26,-2.0),(-4.24,-2.85),(-4.22,-3.45),(-4.2,-1.65),
(-4.18,-2.35),(-4.16,-0.55),(-4.14,-3.1),(-4.12,-1.85),(-4.1,-3.8),(-4.08,-2.65),(-4.06,-1.3),(-4.04,-2.15),(-4.02,-2.9),(-4.97,-4.3),
(-4.87,-0.25),(-4.77,-4.55),(-4.67,-0.4),(-4.57,-4.2),(-4.47,-0.3),(-4.37,-4.45),(-4.27,-0.75),(-4.17,-4.0),(-4.07,-0.65),(-4.95,-2.6),
(-4.85,-1.85),(-4.75,-3.25),(-4.65,-1.45),(-4.55,-2.55),(-4.45,-1.75),(-4.35,-2.7),(-4.25,-2.2),(-4.15,-2.45),(-4.05,-3.55),(-4.93,-1.4),
(-4.83,-2.8),(-4.73,-2.05),(-4.63,-3.1),(-4.53,-2.15),(-4.43,-2.85),(-4.33,-1.55),(-4.23,-2.65),(-4.13,-1.95),(-4.03,-3.05),(-4.99,-3.7),
(-4.89,-3.0),(-4.79,-1.3),(-4.69,-2.4),(-4.59,-2.95),(-4.49,-1.5),(-4.39,-3.35),(-4.29,-2.85),(-4.19,-1.35),(-4.09,-2.3),
(-3.98,-2.35),(-3.96,-1.2),(-3.94,-2.95),(-3.92,-1.8),(-3.9,-3.5),(-3.88,-2.55),(-3.86,-0.95),(-3.84,-2.1),(-3.82,-3.2),(-3.8,-1.6),
(-3.78,-2.7),(-3.76,-3.85),(-3.74,-2.25),(-3.72,-1.15),(-3.7,-3.0),(-3.68,-1.9),(-3.66,-3.35),(-3.64,-2.55),(-3.62,-1.35),(-3.6,-2.15),
(-3.58,-4.0),(-3.56,-2.8),(-3.54,-1.65),(-3.52,-0.75),(-3.5,-2.35),(-3.48,-3.25),(-3.46,-1.95),(-3.44,-3.7),(-3.42,-2.65),(-3.4,-1.2),
(-3.38,-2.3),(-3.36,-3.05),(-3.34,-1.5),(-3.32,-4.2),(-3.3,-2.5),(-3.28,-1.0),(-3.26,-2.05),(-3.24,-2.9),(-3.22,-3.5),(-3.2,-1.7),
(-3.18,-2.4),(-3.16,-0.85),(-3.14,-3.15),(-3.12,-1.9),(-3.1,-3.85),(-3.08,-2.7),(-3.06,-1.4),(-3.04,-2.2),(-3.02,-2.95),(-3.97,-4.35),
(-3.87,-0.55),(-3.77,-4.5),(-3.67,-0.7),(-3.47,-4.3),(-3.37,-0.6),(-3.17,-4.1),(-3.07,-0.9),(-3.95,-2.65),(-3.85,-1.9),(-3.75,-3.3),
(-3.65,-1.5),(-3.55,-2.6),(-3.45,-1.8),(-3.35,-2.75),(-3.25,-2.25),(-3.15,-2.5),(-3.05,-3.6),(-3.93,-1.45),(-3.83,-2.85),(-3.73,-2.1),
(-3.63,-3.15),(-3.53,-2.2),(-3.43,-2.9),(-3.33,-1.6),(-3.23,-2.7),(-3.13,-2.0),(-3.03,-3.1),(-3.99,-3.75),(-3.89,-3.05),(-3.79,-1.35),
(-3.69,-2.45),(-3.59,-3.0),(-3.49,-1.55),(-3.39,-3.4),(-3.29,-2.9),(-3.19,-1.4),(-3.09,-2.35),
(-2.98,-2.4),(-2.95,-1.3),(-2.92,-3.0),(-2.9,-1.85),(-2.87,-3.5),(-2.85,-2.6),(-2.82,-1.05),(-2.8,-2.15),(-2.77,-3.25),(-2.75,-1.65),
(-2.72,-2.75),(-2.7,-3.8),(-2.67,-2.3),(-2.65,-1.25),(-2.62,-3.05),(-2.6,-1.95),(-2.57,-3.4),(-2.55,-2.6),(-2.52,-1.45),(-2.5,-2.2),
(-2.47,-3.9),(-2.45,-2.85),(-2.42,-1.7),(-2.4,-0.95),(-2.37,-2.4),(-2.35,-3.3),(-2.32,-2.0),(-2.3,-3.65),(-2.27,-2.7),(-2.25,-1.3),
(-2.22,-2.35),(-2.2,-3.1),(-2.17,-1.6),(-2.15,-4.05),(-2.12,-2.55),(-2.1,-1.15),(-2.07,-2.1),(-2.05,-2.95),(-2.02,-3.55),(-2.97,-4.1),
(-2.8,-0.75),(-2.6,-4.3),(-2.45,-0.7),(-2.25,-4.2),(-2.06,-0.9),(-2.94,-2.05),(-2.84,-2.9),(-2.74,-2.1),(-2.64,-2.5),(-2.54,-3.15),
(-2.44,-2.3),(-2.34,-1.8),(-2.24,-2.95),(-2.14,-2.25),(-2.04,-1.75),(-2.91,-2.7),(-2.81,-1.5),(-2.71,-3.55),(-2.61,-1.6),(-2.51,-2.75),
(-2.41,-3.45),(-2.31,-2.5),(-2.21,-1.95),(-2.11,-3.35),(-2.01,-2.4),
(-1.98,-2.5),(-1.95,-1.4),(-1.92,-3.05),(-1.9,-2.1),(-1.87,-3.5),(-1.85,-1.75),(-1.82,-2.7),(-1.8,-1.2),(-1.77,-2.3),(-1.75,-3.25),
(-1.72,-1.9),(-1.7,-2.85),(-1.67,-1.55),(-1.65,-2.45),(-1.62,-3.6),(-1.6,-2.05),(-1.57,-1.3),(-1.55,-2.75),(-1.52,-2.2),(-1.5,-3.15),
(-1.47,-1.7),(-1.45,-2.55),(-1.42,-1.95),(-1.4,-2.95),(-1.37,-2.35),(-1.35,-1.5),(-1.32,-2.65),(-1.3,-3.3),(-1.27,-2.0),(-1.25,-2.45),
(-1.22,-1.85),(-1.2,-2.9),(-1.96,-3.9),(-1.76,-0.8),(-1.56,-3.85),(-1.36,-0.95),(-1.88,-2.4),(-1.68,-2.15),(-1.48,-2.6),(-1.28,-2.8),
(-1.58,-1.85),(-1.38,-2.1),(-1.78,-2.6),(-1.18,-2.3),(-1.63,-2.95),
(-1.15,-2.25),(-1.1,-1.75),(-1.05,-2.6),(-1.0,-2.1),(-0.95,-1.5),(-0.9,-2.35),(-0.85,-2.8),(-0.8,-2.0),(-0.75,-2.5),(-0.7,-1.85),
(-0.65,-2.3),(-0.6,-2.7),(-0.55,-2.15),(-0.5,-2.45),(-0.45,-1.95),(-0.4,-2.55),(-0.3,-2.25),(-0.2,-2.65),(-0.1,-2.1),(-0.72,-1.55),
(-1.12,-3.0),(-0.88,-3.2),
]

pakistan_core = [
(-10.49,-1.5),(-10.45,-2.5),(-10.41,-1.95),(-10.37,-2.95),(-10.33,-1.3),(-10.29,-2.2),(-10.25,-3.2),(-10.21,-1.7),(-10.17,-2.6),(-10.13,-2.0),
(-10.09,-1.05),(-10.05,-2.8),(-10.01,-2.35),(-10.35,-1.6),(-10.15,-3.4),
(-9.99,-1.5),(-9.93,-2.4),(-9.87,-1.85),(-9.81,-2.95),(-9.75,-1.2),(-9.69,-2.15),(-9.63,-3.2),(-9.57,-1.65),(-9.51,-2.6),(-9.45,-2.0),
(-9.39,-1.05),(-9.33,-2.85),(-9.27,-2.3),(-9.21,-1.55),(-9.15,-3.4),(-9.09,-1.75),(-9.03,-2.5),(-9.96,-2.75),(-9.84,-1.4),(-9.72,-2.45),
(-9.6,-1.0),(-9.48,-3.05),(-9.36,-1.9),(-9.24,-2.65),(-9.12,-2.15),(-9.9,-0.85),(-9.66,-2.9),(-9.42,-1.35),(-9.18,-2.35),(-9.06,-0.7),
(-9.54,-3.5),(-9.3,-0.9),
(-8.99,-1.6),(-8.93,-2.5),(-8.87,-1.95),(-8.81,-3.0),(-8.75,-1.25),(-8.69,-2.2),(-8.63,-3.25),(-8.57,-1.7),(-8.51,-2.65),(-8.45,-2.05),
(-8.39,-1.1),(-8.33,-2.9),(-8.27,-2.35),(-8.21,-1.6),(-8.15,-3.45),(-8.09,-1.8),(-8.03,-2.55),(-8.96,-2.8),(-8.84,-1.45),(-8.72,-2.5),
(-8.6,-1.05),(-8.48,-3.1),(-8.36,-1.95),(-8.24,-2.7),(-8.12,-2.2),(-8.9,-0.9),(-8.66,-2.95),(-8.42,-1.4),(-8.18,-2.4),(-8.06,-0.75),
(-8.54,-3.55),(-8.3,-0.95),
(-7.99,-1.65),(-7.93,-2.55),(-7.87,-2.0),(-7.81,-3.05),(-7.75,-1.3),(-7.69,-2.25),(-7.63,-3.3),(-7.57,-1.75),(-7.51,-2.7),(-7.45,-2.1),
(-7.39,-1.15),(-7.33,-2.95),(-7.27,-2.4),(-7.21,-1.65),(-7.15,-3.5),(-7.09,-1.85),(-7.03,-2.6),(-7.96,-2.85),(-7.84,-1.5),(-7.72,-2.55),
(-7.6,-1.1),(-7.48,-3.15),(-7.36,-2.0),(-7.24,-2.75),(-7.12,-2.25),(-7.9,-0.95),(-7.66,-3.0),(-7.42,-1.45),(-7.18,-2.45),(-7.06,-0.8),
(-7.54,-3.6),(-7.3,-1.0),
(-6.99,-1.7),(-6.93,-2.6),(-6.87,-2.05),(-6.81,-3.1),(-6.75,-1.35),(-6.69,-2.3),(-6.63,-3.35),(-6.57,-1.8),(-6.51,-2.75),(-6.45,-2.15),
(-6.39,-1.2),(-6.33,-3.0),(-6.27,-2.45),(-6.21,-1.7),(-6.15,-3.55),(-6.09,-1.9),(-6.03,-2.65),(-6.96,-2.9),(-6.84,-1.55),(-6.72,-2.6),
(-6.6,-1.15),(-6.48,-3.2),(-6.36,-2.05),(-6.24,-2.8),(-6.12,-2.3),(-6.9,-1.0),(-6.66,-3.05),(-6.42,-1.5),(-6.18,-2.5),(-6.06,-0.85),
(-6.54,-3.65),(-6.3,-1.05),
(-5.99,-1.75),(-5.93,-2.65),(-5.87,-2.1),(-5.81,-3.15),(-5.75,-1.4),(-5.69,-2.35),(-5.63,-3.4),(-5.57,-1.85),(-5.51,-2.8),(-5.45,-2.2),
(-5.39,-1.25),(-5.33,-3.05),(-5.27,-2.5),(-5.21,-1.75),(-5.15,-3.6),(-5.09,-1.95),(-5.03,-2.7),(-5.96,-2.95),(-5.84,-1.6),(-5.72,-2.65),
(-5.6,-1.2),(-5.48,-3.25),(-5.36,-2.1),(-5.24,-2.85),(-5.12,-2.35),(-5.9,-1.05),(-5.66,-3.1),(-5.42,-1.55),(-5.18,-2.55),(-5.06,-0.9),
(-5.54,-3.7),(-5.3,-1.1),
(-4.99,-1.85),(-4.93,-2.7),(-4.87,-2.15),(-4.81,-3.2),(-4.75,-1.5),(-4.69,-2.4),(-4.63,-3.45),(-4.57,-1.9),(-4.51,-2.85),(-4.45,-2.25),
(-4.39,-1.35),(-4.33,-3.1),(-4.27,-2.55),(-4.21,-1.8),(-4.15,-3.65),(-4.09,-2.0),(-4.03,-2.75),(-4.96,-3.0),(-4.84,-1.65),(-4.72,-2.7),
(-4.6,-1.3),(-4.48,-3.3),(-4.36,-2.15),(-4.24,-2.9),(-4.12,-2.4),(-4.9,-1.15),(-4.66,-3.15),(-4.42,-1.6),(-4.18,-2.6),(-4.06,-1.0),
(-4.54,-3.75),(-4.3,-1.2),
(-3.99,-1.9),(-3.93,-2.75),(-3.87,-2.2),(-3.81,-3.25),(-3.75,-1.55),(-3.69,-2.45),(-3.63,-3.5),(-3.57,-1.95),(-3.51,-2.9),(-3.45,-2.3),
(-3.39,-1.4),(-3.33,-3.15),(-3.27,-2.6),(-3.21,-1.85),(-3.15,-3.7),(-3.09,-2.05),(-3.03,-2.8),(-3.96,-3.05),(-3.84,-1.7),(-3.72,-2.75),
(-3.6,-1.35),(-3.48,-3.35),(-3.36,-2.2),(-3.24,-2.95),(-3.12,-2.45),(-3.9,-1.2),(-3.66,-3.2),(-3.42,-1.65),(-3.18,-2.65),(-3.06,-1.1),
(-2.99,-1.95),(-2.93,-2.8),(-2.87,-2.25),(-2.81,-3.3),(-2.75,-1.6),(-2.69,-2.5),(-2.63,-3.55),(-2.57,-2.0),(-2.51,-2.95),(-2.45,-2.35),
(-2.39,-1.45),(-2.33,-3.2),(-2.27,-2.65),(-2.21,-1.9),(-2.15,-3.5),(-2.09,-2.1),(-2.03,-2.85),(-2.96,-3.1),(-2.84,-1.75),(-2.72,-2.8),
(-2.6,-1.4),(-2.48,-3.4),(-2.36,-2.25),(-2.24,-3.0),(-2.12,-2.5),(-2.9,-1.3),(-2.66,-3.25),(-2.42,-1.7),
(-1.99,-2.0),(-1.94,-2.8),(-1.89,-2.25),(-1.84,-3.1),(-1.79,-1.6),(-1.74,-2.5),(-1.69,-3.35),(-1.64,-2.05),(-1.59,-2.9),(-1.54,-2.4),
(-1.49,-1.55),(-1.44,-3.0),(-1.39,-2.6),(-1.34,-1.9),(-1.31,-2.2),
]

titles = ["Geographical/product orientation<br>of Colombia's exports, 2000",
          "Geographical/product orientation<br>of Pakistan's exports, 2000"]
x_title = "log of export share of<br>product k to destination j"
NB = "\u00a0"
scatter_name = NB + "log avg. import growth of product<br>" + NB + "k by destination j, 1990\u20132000"
fit_name = NB + "Fitted values"

# ---------------- styling ----------------
W, H = 957, 555
DOT = "rgb(0,150,202)"
FIT = "rgb(166,114,160)"
TXT = "#222222"
AX = "#333333"
FONT = "Liberation Sans, Arial, Helvetica, sans-serif"
MS = 6.2

def px(v):
    return v / W

def py(v):
    return 1 - v / H

col_pts = colombia_outliers + colombia_bulk + colombia_core
pak_pts = pakistan_outliers + pakistan_bulk + pakistan_core

fig = go.Figure()
fig.add_trace(go.Scatter(x=[p[0] for p in col_pts], y=[p[1] for p in col_pts], mode="markers",
                         marker=dict(color=DOT, size=MS, line=dict(width=0)),
                         name=scatter_name, xaxis="x", yaxis="y", legend="legend", legendgroup="a"))
fig.add_trace(go.Scatter(x=colombia_fit_x, y=colombia_fit_y, mode="lines",
                         line=dict(color=FIT, width=2.6), name=fit_name,
                         xaxis="x", yaxis="y", legend="legend", legendgroup="b"))
fig.add_trace(go.Scatter(x=[p[0] for p in pak_pts], y=[p[1] for p in pak_pts], mode="markers",
                         marker=dict(color=DOT, size=MS, line=dict(width=0)),
                         name=scatter_name, xaxis="x2", yaxis="y2", legend="legend2", legendgroup="c"))
fig.add_trace(go.Scatter(x=pakistan_fit_x, y=pakistan_fit_y, mode="lines",
                         line=dict(color=FIT, width=2.6), name=fit_name,
                         xaxis="x2", yaxis="y2", legend="legend2", legendgroup="d"))

axis_common = dict(showgrid=False, zeroline=False, showline=True, linecolor=AX, linewidth=1.2,
                   ticks="outside", ticklen=7, tickwidth=1.2, tickcolor=AX,
                   tickfont=dict(size=20, color=TXT, family=FONT), automargin=False)

ydom = [py(339.3), py(101.7)]
legend_common = dict(xanchor="left", yanchor="top", bgcolor="rgba(0,0,0,0)", borderwidth=0,
                     font=dict(size=21, color=TXT, family=FONT), itemwidth=48,
                     traceorder="grouped", tracegroupgap=10, valign="top")
fig.update_layout(
    width=W, height=H,
    margin=dict(l=0, r=0, t=0, b=0, autoexpand=False),
    paper_bgcolor="white", plot_bgcolor="white",
    font=dict(family=FONT, color=TXT, size=20),
    xaxis=dict(domain=[px(46.7), px(468)], range=[-15.276, 0.044], tickvals=tick_x, anchor="y", **axis_common),
    yaxis=dict(domain=ydom, range=[-7.09, 2.98], tickvals=tick_y_colombia, anchor="x", **axis_common),
    xaxis2=dict(domain=[px(530.7), px(951)], range=[-15.315, 0.07], tickvals=tick_x, anchor="y2", **axis_common),
    yaxis2=dict(domain=ydom, range=[-10.53, 5.55], tickvals=tick_y_pakistan, anchor="x2", **axis_common),
    legend=dict(x=px(70), y=py(446), **legend_common),
    legend2=dict(x=px(552), y=py(446), **legend_common),
    showlegend=True,
)

# legend frames (extend past the bottom edge as in the reference)
for x0, x1 in [(54.3, 466.7), (536.7, 949.3)]:
    fig.add_shape(type="rect", xref="paper", yref="paper", x0=px(x0), x1=px(x1), y0=py(446), y1=-0.2,
                  line=dict(color=AX, width=1.2), fillcolor="rgba(0,0,0,0)", layer="below")

# panel titles and x-axis titles
for cx, t in [(260, titles[0]), (744, titles[1])]:
    fig.add_annotation(x=px(cx), y=py(36), xref="paper", yref="paper", text=t, showarrow=False,
                       xanchor="center", yanchor="middle", font=dict(size=21, color=TXT, family=FONT))
for cx in [260.8, 744]:
    fig.add_annotation(x=px(cx), y=py(407), xref="paper", yref="paper", text=x_title, showarrow=False,
                       xanchor="center", yanchor="middle", font=dict(size=21, color=TXT, family=FONT))

fig.write_html("out.html", config={"displayModeBar": False},
               post_script="document.body.style.margin='0';document.body.style.overflow='hidden';")
